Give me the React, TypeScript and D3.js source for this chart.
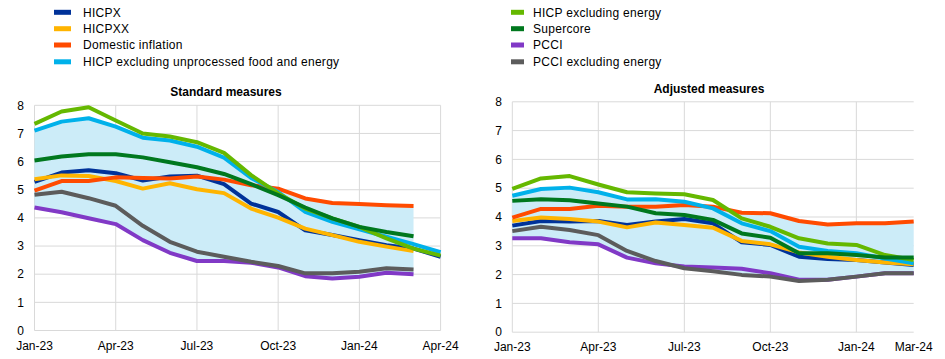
import React from "react";
import * as d3 from "d3";

const monthsL = ["Jan-23","Feb-23","Mar-23","Apr-23","May-23","Jun-23","Jul-23","Aug-23","Sep-23","Oct-23","Nov-23","Dec-23","Jan-24","Feb-24","Mar-24","Apr-24"];
const monthsR = monthsL.slice(0, 15);
const tickLabelsL = ["Jan-23","Apr-23","Jul-23","Oct-23","Jan-24","Apr-24"];
const tickLabelsR = ["Jan-23","Apr-23","Jul-23","Oct-23","Jan-24","Mar-24"];
const yTicks = [0,1,2,3,4,5,6,7,8];

const seriesNames = ["HICPX","HICPXX","Domestic inflation","HICP excluding unprocessed food and energy","HICP excluding energy","Supercore","PCCI","PCCI excluding energy"];
const seriesColors = ["#003299","#ffb400","#ff4b00","#00b1ea","#65b800","#00781e","#8139c6","#5c5c5c"];

// Standard measures (Jan-23 .. Apr-24)
const hicpxL = [5.28,5.61,5.69,5.59,5.33,5.47,5.5,5.2,4.51,4.21,3.56,3.39,3.21,3.03,2.91,2.62];
const hicpxxL = [5.37,5.51,5.49,5.31,5.04,5.23,5.02,4.88,4.33,4.01,3.62,3.39,3.15,2.98,2.82,null];
const domesticL = [4.97,5.31,5.31,5.44,5.42,5.4,5.47,5.36,5.16,5.04,4.69,4.53,4.49,4.45,4.42,null];
const exUnprocL = [7.1,7.42,7.54,7.24,6.85,6.75,6.53,6.14,5.42,4.92,4.21,3.86,3.59,3.33,3.07,2.78];
const exEnergyL = [7.34,7.78,7.93,7.46,7.0,6.89,6.69,6.31,5.52,4.87,4.33,3.98,3.68,3.27,2.91,2.66];
const supercoreL = [6.04,6.18,6.26,6.26,6.15,5.98,5.8,5.56,5.2,4.81,4.37,3.98,3.68,3.5,3.35,null];
const pcciL = [4.37,4.2,3.99,3.78,3.21,2.76,2.47,2.47,2.41,2.24,1.93,1.85,1.91,2.05,2.0,null];
const pcciExL = [4.82,4.93,4.7,4.43,3.72,3.15,2.8,2.62,2.44,2.29,2.03,2.03,2.09,2.21,2.17,null];

// Adjusted measures (Jan-23 .. Mar-24)
const hicpxR = [3.7,3.86,3.84,3.86,3.72,3.84,3.93,3.78,3.12,3.03,2.62,2.54,2.51,2.42,2.33];
const hicpxxR = [3.86,3.98,3.93,3.84,3.64,3.81,3.72,3.63,3.17,3.05,2.77,2.62,2.51,2.42,2.36];
const domesticR = [3.98,4.28,4.28,4.39,4.36,4.36,4.42,4.36,4.15,4.13,3.86,3.74,3.78,3.78,3.84];
const exUnprocR = [4.74,4.97,5.02,4.86,4.61,4.62,4.53,4.3,3.78,3.51,2.97,2.82,2.74,2.56,2.39];
const exEnergyR = [4.98,5.34,5.42,5.13,4.86,4.82,4.79,4.59,3.95,3.66,3.26,3.08,3.03,2.68,2.51];
const supercoreR = [4.56,4.62,4.58,4.47,4.36,4.13,4.07,3.9,3.43,3.28,2.74,2.74,2.68,2.59,2.59];
const pcciR = [3.26,3.26,3.12,3.05,2.59,2.39,2.28,2.25,2.2,2.05,1.82,1.82,1.93,2.05,2.05];
const pcciExR = [3.51,3.66,3.55,3.37,2.82,2.47,2.22,2.12,1.99,1.93,1.78,1.82,1.93,2.05,2.05];

const FONT = "'Liberation Sans', Arial, sans-serif";

type Panel = {
  title: string; titleX: number; titleY: number;
  months: string[]; tickLabels: string[];
  series: (number | null)[][];
  x0: number; x1: number; yTop: number; yBot: number;
  yLabelX: number; xLabelY: number; vGridLabels: string[];
};

function ChartPanel({ p }: { p: Panel }) {
  const x = d3.scalePoint<string>().domain(p.months).range([p.x0, p.x1]);
  const y = d3.scaleLinear().domain([0, 8]).range([p.yBot, p.yTop]);
  const bandIdx = [0, 1, 2, 3, 5, 6, 7];
  const nBand = 15;
  const bandData = d3.range(nBand).map((i) => {
    const vals = bandIdx.map((s) => p.series[s][i]).filter((v) => v != null) as number[];
    return { m: p.months[i], lo: d3.min(vals)!, hi: d3.max(vals)! };
  });
  const area = d3.area<{ m: string; lo: number; hi: number }>()
    .x((d) => x(d.m)!)
    .y0((d) => y(d.lo))
    .y1((d) => y(d.hi));
  const line = d3.line<number | null>()
    .defined((d) => d != null)
    .x((_, i) => x(p.months[i])!)
    .y((d) => y(d as number));
  return (
    <g>
      <text x={p.titleX} y={p.titleY} textAnchor="middle" fontWeight="bold" fontSize={12} fontFamily={FONT} fill="#000">{p.title}</text>
      {yTicks.map((t) => (
        <line key={"h" + t} x1={p.x0} x2={p.x1} y1={y(t)} y2={y(t)} stroke="#d9d9d9" strokeWidth={1} />
      ))}
      {p.vGridLabels.map((m) => (
        <line key={"v" + m} x1={x(m)!} x2={x(m)!} y1={p.yTop} y2={p.yBot} stroke="#d9d9d9" strokeWidth={1} />
      ))}
      <path d={area(bandData)!} fill="#ccecf8" />
      {p.series.map((s, i) => (
        <path key={i} d={line(s)!} fill="none" stroke={seriesColors[i]} strokeWidth={4} strokeLinejoin="round" />
      ))}
      {yTicks.map((t) => (
        <text key={"yl" + t} x={p.yLabelX} y={y(t)} dy="0.35em" textAnchor="end" fontSize={12} fontFamily={FONT} fill="#000">{t}</text>
      ))}
      {p.tickLabels.map((m) => (
        <text key={"xl" + m} x={x(m)!} y={p.xLabelY} textAnchor="middle" fontSize={12} fontFamily={FONT} fill="#000">{m}</text>
      ))}
    </g>
  );
}

export default function App() {
  const left: Panel = {
    title: "Standard measures", titleX: 226, titleY: 96,
    months: monthsL, tickLabels: tickLabelsL,
    series: [hicpxL, hicpxxL, domesticL, exUnprocL, exEnergyL, supercoreL, pcciL, pcciExL],
    x0: 34.5, x1: 440.6, yTop: 105.3, yBot: 330.5,
    yLabelX: 24, xLabelY: 350, vGridLabels: tickLabelsL,
  };
  const right: Panel = {
    title: "Adjusted measures", titleX: 709, titleY: 93,
    months: monthsR, tickLabels: tickLabelsR,
    series: [hicpxR, hicpxxR, domesticR, exUnprocR, exEnergyR, supercoreR, pcciR, pcciExR],
    x0: 512.3, x1: 913.7, yTop: 101.8, yBot: 332.2,
    yLabelX: 502, xLabelY: 351, vGridLabels: ["Jan-23","Apr-23","Jul-23","Oct-23","Jan-24"],
  };
  const legendRows = [12.3, 28.7, 45, 61.8];
  return (
    <svg width={945} height={359} style={{ position: "absolute", left: 0, top: 0, background: "#fff" }}>
      {seriesNames.map((n, i) => {
        const col = i < 4 ? 0 : 1;
        const row = i % 4;
        const sx = col === 0 ? 54 : 511;
        const sw = col === 0 ? 17 : 13;
        const tx = col === 0 ? 83 : 533;
        return (
          <g key={n}>
            <rect x={sx} y={legendRows[row] - 2.5} width={sw} height={5} fill={seriesColors[i]} />
            <text x={tx} y={legendRows[row]} dy="0.35em" fontSize={12} fontFamily={FONT} fill="#000" letterSpacing={0.28}>{n}</text>
          </g>
        );
      })}
      <ChartPanel p={left} />
      <ChartPanel p={right} />
    </svg>
  );
}
